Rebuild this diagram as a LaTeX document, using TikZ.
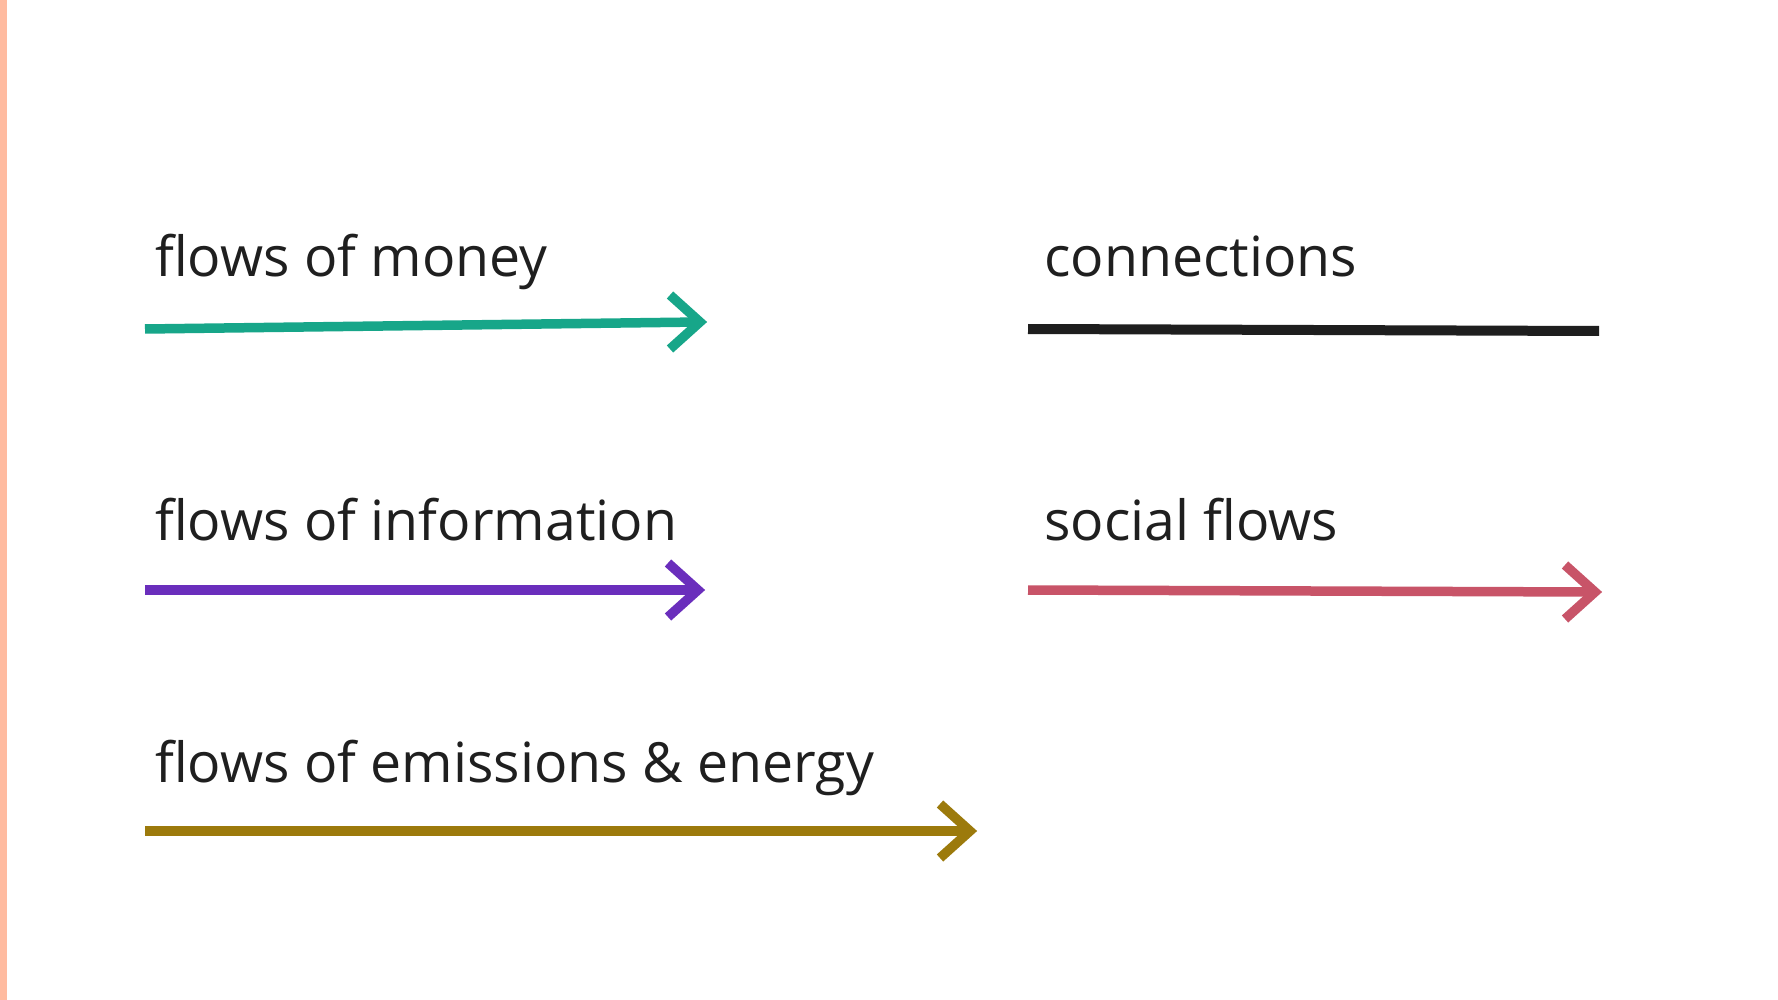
\documentclass[tikz,border=0pt]{standalone}
\usepackage{fontspec}
\setmainfont{Open Sans}
\definecolor{strip}{RGB}{255,187,160}
\definecolor{moneyc}{RGB}{23,166,137}
\definecolor{infoc}{RGB}{106,46,188}
\definecolor{socialc}{RGB}{200,84,104}
\definecolor{energyc}{RGB}{156,122,12}
\definecolor{connc}{RGB}{30,30,30}
\definecolor{textc}{RGB}{31,31,31}
\begin{document}
\begin{tikzpicture}[x=1pt,y=-1pt,
  lbl/.style={anchor=base west, inner sep=0pt, text=textc, font=\fontsize{55.4}{66}\selectfont},
  flow/.style={line width=9.5pt, line cap=butt, line join=miter},
  conn/.style={line width=10pt, line cap=butt, draw=connc},
]
\useasboundingbox[fill=white] (0,0) rectangle (1778,1000);
\fill[strip] (0,0) rectangle (7,1000);

% labels
\node[lbl] (tmoney)  at (155,277) {flows of money};
\node[lbl] (tconn)   at (1044,277) {connections};
\node[lbl] (tinfo)   at (155,540) {flows of information};
\node[lbl] (tsocial) at (1044,540) {social flows};
\node[lbl] (tenergy) at (155,782) {flows of emissions \& energy};

% end points
\coordinate (m1) at (145,329); \coordinate (m2) at (700,322);
\coordinate (c1) at (1028,329); \coordinate (c2) at (1599,331);
\coordinate (i1) at (145,590); \coordinate (i2) at (698,590);
\coordinate (s1) at (1028,590); \coordinate (s2) at (1595,592);
\coordinate (e1) at (145,831); \coordinate (e2) at (970,831);

% flows of money
\draw[flow, draw=moneyc] (m1) -- (m2);
\draw[flow, draw=moneyc] (m2) ++(-30,-27) -- (m2) -- ++(-30,27);
% connections
\draw[conn] (c1) -- (c2);
% flows of information
\draw[flow, draw=infoc] (i1) -- (i2);
\draw[flow, draw=infoc] (i2) ++(-30,-27) -- (i2) -- ++(-30,27);
% social flows
\draw[flow, draw=socialc] (s1) -- (s2);
\draw[flow, draw=socialc] (s2) ++(-30,-27) -- (s2) -- ++(-30,27);
% flows of emissions & energy
\draw[flow, draw=energyc] (e1) -- (e2);
\draw[flow, draw=energyc] (e2) ++(-30,-27) -- (e2) -- ++(-30,27);
\end{tikzpicture}
\end{document}
